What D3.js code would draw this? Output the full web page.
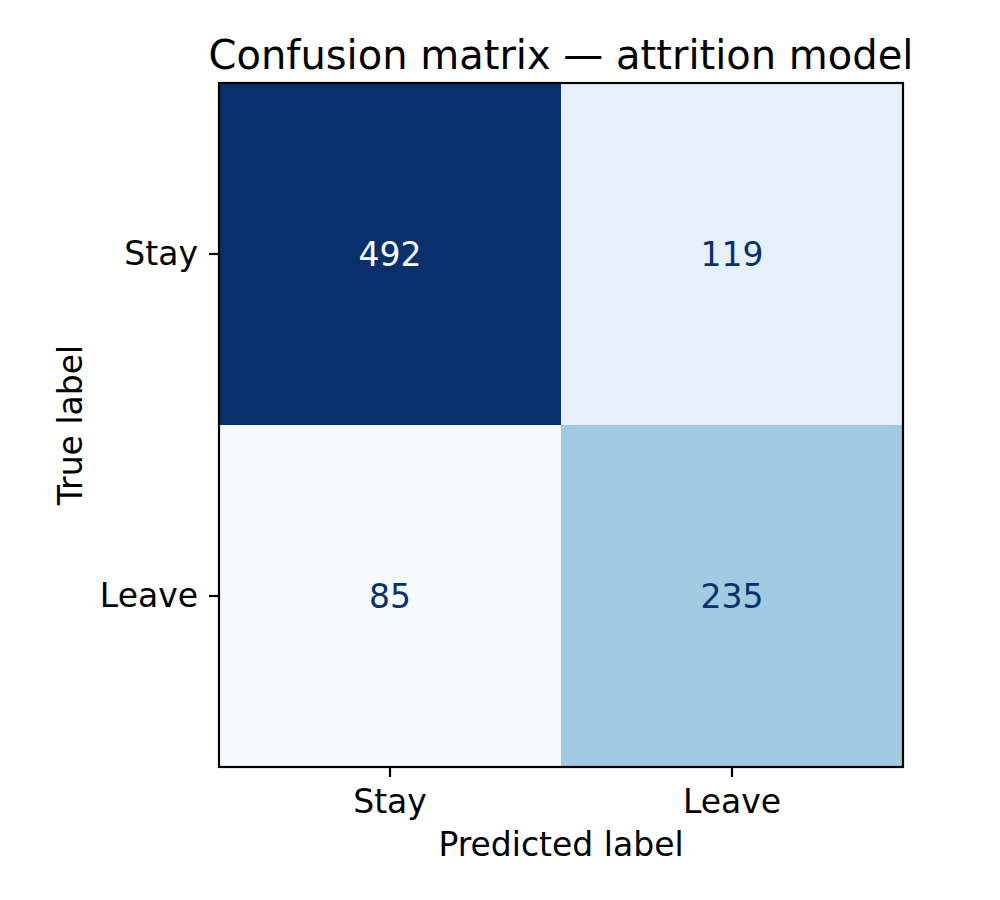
<!DOCTYPE html>
<html>
<head>
<meta charset="utf-8">
<script src="https://cdn.jsdelivr.net/npm/d3@7"></script>
<style>
  body { margin: 0; background: #fff; }
  text { font-family: "DejaVu Sans", sans-serif; }
</style>
</head>
<body>
<script>
// confusion matrix values (rows = true label, cols = predicted label)
const trueLabels = ['Stay', 'Leave']
const predLabels = ['Stay', 'Leave']
const rowStay = [492, 119]
const rowLeave = [85, 235]
const titleText = 'Confusion matrix \u2014 attrition model'

// matplotlib "Blues" stops
const bluesStops = ['#f7fbff', '#deebf7', '#c6dbef', '#9ecae1', '#6baed6', '#4292c6', '#2171b5', '#08519c', '#08306b']

const width = 1000
const height = 900
const margin = {left: 219, top: 83, right: 97, bottom: 133}
const plotW = width - margin.left - margin.right
const plotH = height - margin.top - margin.bottom
const fontSize = 33

const matrix = [rowStay, rowLeave]
const cells = []
matrix.forEach((row, i) => row.forEach((v, j) => cells.push({row: trueLabels[i], col: predLabels[j], value: v})))

const vMin = d3.min(cells, d => d.value)
const vMax = d3.max(cells, d => d.value)

const colorScale = d3.scaleLinear()
    .domain(bluesStops.map((_, i) => vMin + (vMax - vMin) * i / (bluesStops.length - 1)))
    .range(bluesStops)
    .interpolate(d3.interpolateRgb)

const x = d3.scaleBand().domain(predLabels).range([0, plotW])
const y = d3.scaleBand().domain(trueLabels).range([0, plotH])

const svg = d3.select('body').append('svg')
    .attr('width', width)
    .attr('height', height)

const g = svg.append('g').attr('transform', `translate(${margin.left},${margin.top})`)

g.selectAll('rect.cell')
    .data(cells)
    .enter()
    .append('rect')
    .attr('class', 'cell')
    .attr('x', d => x(d.col))
    .attr('y', d => y(d.row))
    .attr('width', x.bandwidth())
    .attr('height', y.bandwidth())
    .attr('fill', d => colorScale(d.value))

const thresh = (vMax + vMin) / 2
g.selectAll('text.val')
    .data(cells)
    .enter()
    .append('text')
    .attr('class', 'val')
    .attr('x', d => x(d.col) + x.bandwidth() / 2)
    .attr('y', d => y(d.row) + y.bandwidth() / 2)
    .attr('text-anchor', 'middle')
    .attr('dominant-baseline', 'central')
    .attr('font-size', fontSize)
    .attr('fill', d => d.value < thresh ? bluesStops[8] : bluesStops[0])
    .text(d => d.value)

// axes
const xAxis = g.append('g')
    .attr('transform', `translate(0,${plotH})`)
    .call(d3.axisBottom(x).tickSize(10).tickPadding(10))
const yAxis = g.append('g')
    .call(d3.axisLeft(y).tickSize(10).tickPadding(11))

;[xAxis, yAxis].forEach(ax => {
    ax.select('.domain').remove()
    ax.selectAll('.tick line').attr('stroke', '#000').attr('stroke-width', 2.2)
    ax.selectAll('.tick text').attr('font-size', fontSize).attr('fill', '#000')
        .style('font-family', '"DejaVu Sans", sans-serif')
})
xAxis.selectAll('.tick text').attr('y', 46).attr('dy', 0)

// frame
g.append('rect')
    .attr('width', plotW)
    .attr('height', plotH)
    .attr('fill', 'none')
    .attr('stroke', '#000')
    .attr('stroke-width', 2.2)

svg.append('text')
    .attr('x', margin.left + plotW / 2)
    .attr('y', 69)
    .attr('text-anchor', 'middle')
    .attr('font-size', 40)
    .attr('fill', '#000')
    .text(titleText)

svg.append('text')
    .attr('x', margin.left + plotW / 2)
    .attr('y', 856)
    .attr('text-anchor', 'middle')
    .attr('font-size', fontSize)
    .attr('fill', '#000')
    .text('Predicted label')

svg.append('text')
    .attr('transform', `translate(82,${margin.top + plotH / 2}) rotate(-90)`)
    .attr('text-anchor', 'middle')
    .attr('font-size', fontSize)
    .attr('fill', '#000')
    .text('True label')
</script>
</body>
</html>
